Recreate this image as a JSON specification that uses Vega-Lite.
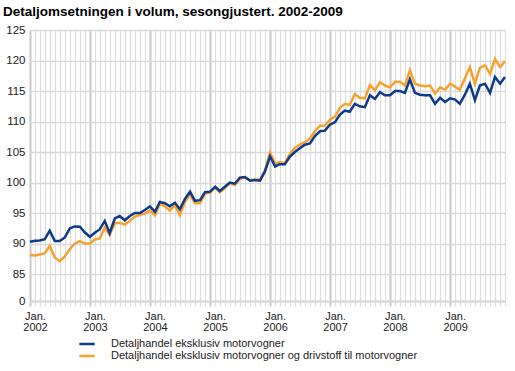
{
  "$schema": "https://vega.github.io/schema/vega-lite/v6.json",
  "width": 475,
  "height": 271,
  "autosize": "none",
  "padding": {"left": 30, "top": 30, "right": 10, "bottom": 70},
  "background": "white",
  "title": {
    "text": "Detaljomsetningen i volum, sesongjustert. 2002-2009",
    "anchor": "start",
    "frame": "group",
    "orient": "top",
    "dx": -27,
    "dy": 8,
    "offset": 0,
    "baseline": "bottom",
    "fontSize": 13.5,
    "fontWeight": "bold",
    "font": "Liberation Sans",
    "color": "#000000"
  },
  "data": {"values": [
    {"date": "2002-01-01", "m": 90.3, "d": 88.1},
    {"date": "2002-02-01", "m": 90.45, "d": 88.05},
    {"date": "2002-03-01", "m": 90.5, "d": 88.2},
    {"date": "2002-04-01", "m": 90.7, "d": 88.4},
    {"date": "2002-05-01", "m": 92.1, "d": 89.6},
    {"date": "2002-06-01", "m": 90.4, "d": 87.7},
    {"date": "2002-07-01", "m": 90.4, "d": 87.1},
    {"date": "2002-08-01", "m": 91.0, "d": 87.9},
    {"date": "2002-09-01", "m": 92.5, "d": 89.1},
    {"date": "2002-10-01", "m": 92.8, "d": 90.0},
    {"date": "2002-11-01", "m": 92.75, "d": 90.4},
    {"date": "2002-12-01", "m": 91.8, "d": 90.0},
    {"date": "2003-01-01", "m": 91.1, "d": 90.0},
    {"date": "2003-02-01", "m": 91.8, "d": 90.7},
    {"date": "2003-03-01", "m": 92.3, "d": 90.8},
    {"date": "2003-04-01", "m": 93.7, "d": 92.6},
    {"date": "2003-05-01", "m": 91.7, "d": 91.4},
    {"date": "2003-06-01", "m": 94.1, "d": 93.3},
    {"date": "2003-07-01", "m": 94.5, "d": 93.4},
    {"date": "2003-08-01", "m": 93.8, "d": 93.1},
    {"date": "2003-09-01", "m": 94.5, "d": 93.7},
    {"date": "2003-10-01", "m": 95.0, "d": 94.4},
    {"date": "2003-11-01", "m": 95.0, "d": 94.7},
    {"date": "2003-12-01", "m": 95.5, "d": 94.9},
    {"date": "2004-01-01", "m": 96.1, "d": 95.4},
    {"date": "2004-02-01", "m": 95.2, "d": 94.6},
    {"date": "2004-03-01", "m": 96.8, "d": 96.5},
    {"date": "2004-04-01", "m": 96.6, "d": 96.1},
    {"date": "2004-05-01", "m": 96.1, "d": 95.4},
    {"date": "2004-06-01", "m": 96.7, "d": 96.3},
    {"date": "2004-07-01", "m": 95.6, "d": 94.6},
    {"date": "2004-08-01", "m": 97.3, "d": 96.8},
    {"date": "2004-09-01", "m": 98.5, "d": 98.1},
    {"date": "2004-10-01", "m": 97.0, "d": 96.6},
    {"date": "2004-11-01", "m": 97.1, "d": 96.6},
    {"date": "2004-12-01", "m": 98.4, "d": 98.2},
    {"date": "2005-01-01", "m": 98.5, "d": 98.3},
    {"date": "2005-02-01", "m": 99.3, "d": 99.2},
    {"date": "2005-03-01", "m": 98.6, "d": 98.4},
    {"date": "2005-04-01", "m": 99.3, "d": 99.1},
    {"date": "2005-05-01", "m": 100.0, "d": 99.9},
    {"date": "2005-06-01", "m": 99.8, "d": 99.6},
    {"date": "2005-07-01", "m": 100.8, "d": 100.6},
    {"date": "2005-08-01", "m": 100.9, "d": 100.8},
    {"date": "2005-09-01", "m": 100.3, "d": 100.4},
    {"date": "2005-10-01", "m": 100.4, "d": 100.5},
    {"date": "2005-11-01", "m": 100.3, "d": 100.5},
    {"date": "2005-12-01", "m": 101.8, "d": 102.0},
    {"date": "2006-01-01", "m": 104.3, "d": 104.9},
    {"date": "2006-02-01", "m": 102.6, "d": 103.1},
    {"date": "2006-03-01", "m": 103.0, "d": 103.35},
    {"date": "2006-04-01", "m": 103.0, "d": 103.15},
    {"date": "2006-05-01", "m": 104.2, "d": 104.65},
    {"date": "2006-06-01", "m": 105.0, "d": 105.7},
    {"date": "2006-07-01", "m": 105.6, "d": 106.2},
    {"date": "2006-08-01", "m": 106.2, "d": 106.6},
    {"date": "2006-09-01", "m": 106.4, "d": 107.2},
    {"date": "2006-10-01", "m": 107.6, "d": 108.4},
    {"date": "2006-11-01", "m": 108.4, "d": 109.3},
    {"date": "2006-12-01", "m": 108.5, "d": 109.35},
    {"date": "2007-01-01", "m": 109.5, "d": 110.3},
    {"date": "2007-02-01", "m": 109.9, "d": 110.85},
    {"date": "2007-03-01", "m": 111.1, "d": 112.2},
    {"date": "2007-04-01", "m": 111.8, "d": 112.9},
    {"date": "2007-05-01", "m": 111.6, "d": 112.7},
    {"date": "2007-06-01", "m": 112.9, "d": 114.5},
    {"date": "2007-07-01", "m": 112.5, "d": 113.9},
    {"date": "2007-08-01", "m": 112.35, "d": 113.8},
    {"date": "2007-09-01", "m": 114.3, "d": 116.0},
    {"date": "2007-10-01", "m": 113.7, "d": 115.1},
    {"date": "2007-11-01", "m": 114.8, "d": 116.45},
    {"date": "2007-12-01", "m": 114.3, "d": 115.9},
    {"date": "2008-01-01", "m": 114.3, "d": 115.6},
    {"date": "2008-02-01", "m": 115.0, "d": 116.5},
    {"date": "2008-03-01", "m": 115.0, "d": 116.5},
    {"date": "2008-04-01", "m": 114.7, "d": 115.9},
    {"date": "2008-05-01", "m": 116.9, "d": 118.4},
    {"date": "2008-06-01", "m": 114.7, "d": 116.2},
    {"date": "2008-07-01", "m": 114.4, "d": 115.9},
    {"date": "2008-08-01", "m": 114.3, "d": 115.8},
    {"date": "2008-09-01", "m": 114.3, "d": 115.9},
    {"date": "2008-10-01", "m": 112.9, "d": 114.6},
    {"date": "2008-11-01", "m": 113.9, "d": 115.6},
    {"date": "2008-12-01", "m": 113.2, "d": 115.2},
    {"date": "2009-01-01", "m": 113.8, "d": 116.2},
    {"date": "2009-02-01", "m": 113.6, "d": 115.7},
    {"date": "2009-03-01", "m": 112.9, "d": 115.2},
    {"date": "2009-04-01", "m": 114.4, "d": 117.1},
    {"date": "2009-05-01", "m": 116.2, "d": 118.9},
    {"date": "2009-06-01", "m": 113.5, "d": 116.2},
    {"date": "2009-07-01", "m": 115.9, "d": 118.8},
    {"date": "2009-08-01", "m": 116.2, "d": 119.2},
    {"date": "2009-09-01", "m": 114.7, "d": 117.8},
    {"date": "2009-10-01", "m": 117.3, "d": 120.25},
    {"date": "2009-11-01", "m": 116.2, "d": 118.9},
    {"date": "2009-12-01", "m": 117.3, "d": 119.9}
  ]},
  "transform": [{"fold": ["d", "m"], "as": ["serie", "v"]}],
  "mark": {"type": "line", "strokeWidth": 2.5, "strokeJoin": "miter", "clip": false},
  "encoding": {
    "x": {
      "field": "date",
      "type": "temporal",
      "scale": {"type": "utc", "nice": false},
      "axis": {
        "title": null,
        "tickCount": {"interval": "month", "step": 1},
        "labelExpr": "utcmonth(datum.value) == 0 ? ['Jan.', utcFormat(datum.value, '%Y')] : ''",
        "labelOverlap": false,
        "labelBound": false,
        "labelFlush": false,
        "labelAlign": "center",
        "labelBaseline": "top",
        "labelOffset": 5,
        "labelPadding": 4,
        "labelFontSize": 11,
        "labelLineHeight": 11,
        "labelColor": "#222222",
        "labelFont": "Liberation Sans",
        "grid": true,
        "gridColor": {"condition": {"test": "utcmonth(datum.value) == 0", "value": "#c8c8c8"}, "value": "#dedede"},
        "gridWidth": {"condition": {"test": "utcmonth(datum.value) == 0", "value": 2}, "value": 1.2},
        "ticks": true,
        "tickSize": 5,
        "tickColor": {"condition": {"test": "utcmonth(datum.value) == 0", "value": "#c8c8c8"}, "value": "#dedede"},
        "tickWidth": {"condition": {"test": "utcmonth(datum.value) == 0", "value": 2}, "value": 1.2},
        "domain": true,
        "domainColor": "#d6d6d6",
        "domainWidth": 2
      }
    },
    "y": {
      "field": "v",
      "type": "quantitative",
      "scale": {"domain": [0, 85, 125], "range": [271, 244, 0], "nice": false, "zero": false},
      "axis": {
        "title": null,
        "values": [0, 85, 90, 95, 100, 105, 110, 115, 120, 125],
        "grid": true,
        "gridColor": "#d9d9d9",
        "gridWidth": 1.5,
        "domain": false,
        "ticks": false,
        "labelPadding": 5,
        "labelFontSize": 11.5,
        "labelColor": "#222222",
        "labelFont": "Liberation Sans"
      }
    },
    "color": {
      "field": "serie",
      "type": "nominal",
      "scale": {"domain": ["m", "d"], "range": ["#0d3a8a", "#f7a12e"]},
      "legend": {
        "title": null,
        "orient": "none",
        "legendX": 50,
        "legendY": 307,
        "direction": "vertical",
        "symbolType": "M-1.4,0L1.4,0",
        "symbolSize": 120,
        "symbolStrokeWidth": 2.5,
        "labelOffset": 17,
        "rowPadding": 0,
        "labelFontSize": 11,
        "labelColor": "#222222",
        "labelFont": "Liberation Sans",
        "labelLimit": 400,
        "labelExpr": "datum.label == 'm' ? 'Detaljhandel eksklusiv motorvogner' : 'Detaljhandel eksklusiv motorvogner og drivstoff til motorvogner'"
      }
    }
  },
  "config": {"view": {"stroke": null}, "font": "Liberation Sans"}
}
